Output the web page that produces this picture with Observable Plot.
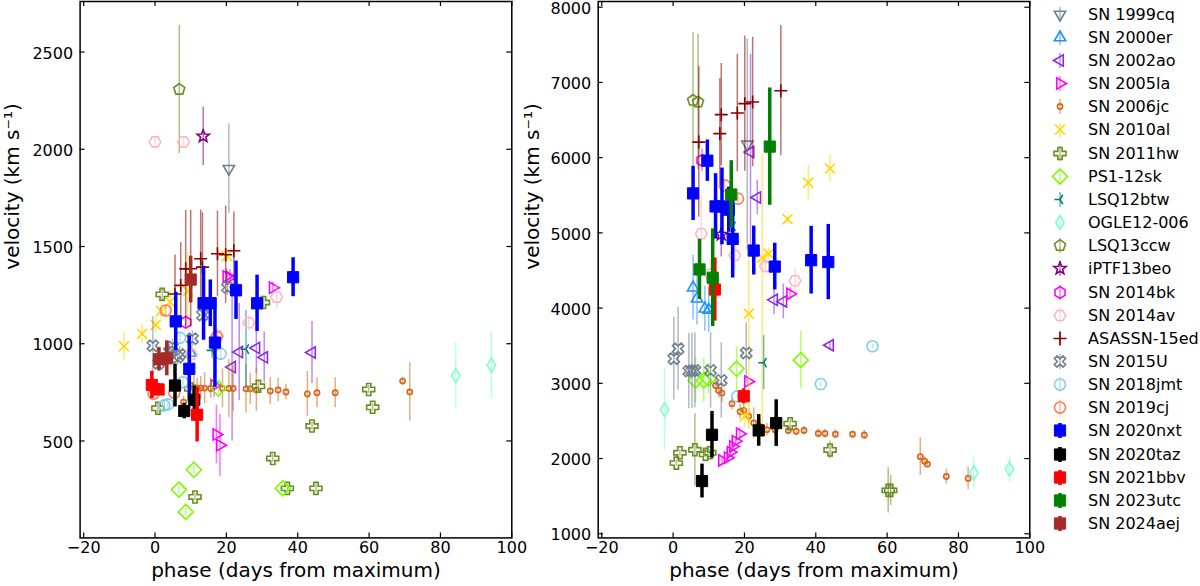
<!DOCTYPE html>
<html>
<head>
<meta charset="utf-8">
<script src="https://cdn.jsdelivr.net/npm/d3@7"></script>
<script src="https://cdn.jsdelivr.net/npm/@observablehq/plot@0.6"></script>
<style>
  body { margin: 0; background: #fff; font-family: "DejaVu Sans", sans-serif; }
  #wrap { position: relative; width: 1200px; height: 586px; overflow: hidden; }
  #wrap > svg, #wrap > figure { position: absolute; top: 0; margin: 0; }
  #legend { position: absolute; left: 1040px; top: 0; width: 160px; height: 586px; }
  .row { position: absolute; left: 0; height: 23px; display: flex; align-items: center; }
  .row span { font-size: 16px; margin-left: 8px; white-space: nowrap; color: #000; }
</style>
</head>
<body>
<div id="wrap"><div id="legend"></div></div>
<script>
// rows are [phase, velocity, err] or [phase, velocity, errLow, errHigh]
const L_1999cq = [[20.7, 1900, 230]];
const L_2000er = [[10.0, 952, 50]];
const L_2002ao = [[21.6, 880, 380], [23.6, 957, 250], [28.4, 978, 130], [30.6, 930, 130], [44.0, 955, 160]];
const L_2005la = [[20.0, 1346, 40], [21.0, 1342, 40], [33.0, 1288, 30], [16.6, 785, 60], [17.2, 533, 150], [18.2, 478, 160]];
const L_2006jc = [[8.0, 700, 30], [10.9, 775, 60], [11.8, 772, 50], [12.8, 772, 60], [13.9, 772, 80], [15.6, 770, 50],
  [18.9, 770, 100], [20.7, 770, 150], [21.9, 770, 120], [25.5, 768, 125], [26.7, 768, 80], [28.4, 762, 110],
  [32.3, 757, 70], [34.5, 762, 60], [36.7, 752, 40], [42.7, 742, 115], [45.4, 748, 77], [50.5, 748, 77],
  [69.4, 808, 20], [71.4, 752, 150]];
const L_2010al = [[-8.7, 987, 70], [-3.6, 1051, 50], [0.2, 1097, 40], [1.7, 1168, 40], [4.2, 1215, 60], [9.2, 1270, 200], [20.1, 1452, 40]];
const L_2011hw = [[2.0, 1254, 30], [0.8, 668, 30], [10.0, 768, 30], [11.2, 212, 20], [29.0, 781, 30], [30.4, 1212, 30],
  [33.0, 410, 20], [37.1, 256, 20], [45.1, 256, 20], [44.0, 577, 20], [59.9, 765, 20], [61.0, 673, 20]];
const L_ps112sk = [[17.8, 770, 30], [10.9, 352, 20], [6.7, 250, 20], [8.6, 135, 20], [35.8, 256, 20]];
const L_lsq12btw = [[16.0, 966, 40], [25.5, 972, 200]];
const L_ogle12 = [[84.3, 837, 170], [94.3, 890, 170]];
const L_lsq13ccw = [[6.8, 2308, 330]];
const L_iptf13beo = [[13.5, 2067, 150]];
const L_2014bk = [[8.6, 1110, 30]];
const L_2014av = [[0.0, 2038, 20], [8.0, 2038, 20], [10.2, 945, 40], [17.5, 1040, 40], [26.3, 1108, 40], [34.1, 1240, 60]];
const L_asassn15ed = [[5.6, 1256, 200], [7.2, 1300, 220], [8.6, 1385, 300], [10.0, 1386, 300], [12.8, 1437, 250],
  [13.3, 1394, 280], [17.5, 1463, 220], [19.8, 1458, 250], [22.1, 1478, 200]];
const L_2015U = [[-0.6, 990, 150], [1.0, 900, 40], [4.0, 958, 40], [4.9, 983, 40], [6.3, 930, 40], [6.9, 945, 40],
  [10.5, 1026, 40], [13.3, 1148, 40], [20.3, 1290, 40]];
const L_2018jmt = [[2.6, 683, 30], [3.6, 688, 30], [7.0, 1030, 30], [7.8, 802, 30], [18.4, 948, 30]];
const L_2019cj = [[-0.4, 743, 30], [3.0, 1171, 30], [5.4, 748, 30], [17.3, 1035, 30]];
const L_2020nxt = [[5.8, 1115, 150], [9.6, 871, 170], [13.6, 1208, 190], [15.5, 1208, 120], [16.8, 1006, 230],
  [22.7, 1275, 150], [28.6, 1208, 145], [38.7, 1342, 100]];
const L_2020taz = [[5.6, 785, 110], [8.2, 654, 40], [11.0, 712, 70]];
const L_2021bbv = [[-0.9, 788, 70], [1.0, 765, 30], [11.8, 635, 140]];
const L_2023utc = [];
const L_2024aej = [[1.1, 920, 60], [3.3, 925, 90], [10.0, 1330, 120]];

const R_1999cq = [[20.8, 6177, 1400]];
const R_2000er = [[5.6, 4271, 430], [6.7, 4125, 350], [8.9, 3992, 300], [10.0, 3975, 300]];
const R_2002ao = [[21.7, 6074, 1300], [23.6, 5470, 230], [28.3, 4110, 200], [30.9, 4089, 230], [44.0, 3507, 50]];
const R_2005la = [[13.7, 1975, 60], [15.3, 2011, 60], [16.1, 2085, 60], [16.8, 2161, 60], [17.5, 2231, 60],
  [18.7, 2330, 80], [21.0, 3025, 60], [32.8, 4189, 80]];
const R_2006jc = [[11.9, 2972, 100], [12.8, 2905, 100], [13.7, 2870, 120], [16.5, 2729, 80], [18.8, 2622, 100],
  [19.8, 2640, 100], [21.2, 2562, 100], [22.6, 2473, 200], [24.4, 2423, 100], [26.3, 2383, 80], [28.6, 2383, 80],
  [32.3, 2373, 60], [34.5, 2363, 60], [36.7, 2373, 60], [40.7, 2333, 60], [42.6, 2333, 60], [45.5, 2323, 60],
  [50.3, 2323, 30], [53.6, 2313, 60], [69.3, 2025, 250], [70.5, 1965, 60], [71.3, 1925, 40], [76.6, 1761, 100],
  [82.7, 1736, 150]];
const R_2010al = [[44.0, 5856, 185], [37.9, 5667, 225], [32.1, 5184, 50], [26.8, 4723, 80], [25.0, 4672, 2300, 1383],
  [21.2, 3926, 1550, 735], [20.1, 2560, 150]];
const R_2011hw = [[0.9, 1939, 40], [1.9, 2077, 40], [6.1, 2117, 480], [9.1, 2055, 40], [10.3, 2077, 40],
  [32.8, 2463, 60], [44.0, 2114, 120], [60.3, 1577, 300], [61.0, 1577, 200]];
const R_ps112sk = [[6.3, 3039, 300], [8.6, 3039, 290], [9.9, 3061, 200], [17.8, 3194, 290], [35.8, 3308, 385]];
const R_lsq12btw = [[25.4, 3274, 360], [16.7, 5086, 60]];
const R_ogle12 = [[-2.4, 2649, 550], [84.3, 1811, 200], [94.3, 1861, 170]];
const R_lsq13ccw = [[5.6, 6762, 900], [7.0, 6739, 900]];
const R_iptf13beo = [[13.5, 4980, 300]];
const R_2014bk = [[8.1, 5964, 150]];
const R_2014av = [[7.9, 4989, 500], [10.4, 4450, 200], [17.3, 4701, 200], [25.9, 4555, 100], [34.2, 4363, 150]];
const R_asassn15ed = [[7.2, 6207, 1000], [13.1, 6319, 730], [13.5, 6572, 680], [18.0, 6593, 780], [20.1, 6718, 900],
  [22.3, 6739, 860], [30.2, 6890, 866]];
const R_2015U = [[0.2, 3327, 550], [1.4, 3460, 550], [4.4, 3162, 500], [5.3, 3165, 500], [6.1, 3172, 500],
  [10.5, 3172, 500], [13.5, 3039, 500], [20.5, 3402, 400]];
const R_2018jmt = [[55.9, 3492, 30], [41.4, 2990, 30], [18.0, 2826, 30]];
const R_2019cj = [[14.5, 5632, 50], [18.2, 5455, 50]];
const R_2020nxt = [[5.6, 5525, 360], [9.6, 5960, 275], [11.9, 5352, 435], [13.7, 5352, 510], [15.6, 5308, 300],
  [16.7, 4920, 520], [22.6, 4765, 325], [28.5, 4552, 310], [38.7, 4637, 450], [43.5, 4612, 500]];
const R_2020taz = [[8.1, 1701, 225], [10.9, 2316, 310], [24.0, 2374, 210], [28.9, 2471, 310]];
const R_2021bbv = [[11.7, 4247, 420], [19.8, 2828, 100]];
const R_2023utc = [[7.4, 4514, 400], [11.1, 4404, 650], [16.3, 5510, 450], [27.1, 6147, 780]];
const R_2024aej = [];

const xTicks = [-20, 0, 20, 40, 60, 80, 100];
const yTicksLeft = [500, 1000, 1500, 2000, 2500];
const yTicksRight = [1000, 2000, 3000, 4000, 5000, 6000, 7000, 8000];

// marker shapes, r is the half size in px
const sym = (fn) => ({draw(ctx, size) { fn(ctx, Math.sqrt(size / Math.PI)); }});
function poly(ctx, pts) {
  pts.forEach(([x, y], i) => i ? ctx.lineTo(x, y) : ctx.moveTo(x, y));
  ctx.closePath();
}
function ring(ctx, r, n, start) {
  const pts = [];
  for (let i = 0; i < n; i++) {
    const a = (start + i * 360 / n) * Math.PI / 180;
    pts.push([r * Math.cos(a), r * Math.sin(a)]);
  }
  poly(ctx, pts);
}
const triDown = sym((c, r) => ring(c, r, 3, 90));
const triUp = sym((c, r) => ring(c, r, 3, -90));
const triLeft = sym((c, r) => ring(c, r, 3, 180));
const triRight = sym((c, r) => ring(c, r, 3, 0));
const circle = sym((c, r) => { c.moveTo(r, 0); c.arc(0, 0, r, 0, 2 * Math.PI); });
const square = sym((c, r) => poly(c, [[-r, -r], [r, -r], [r, r], [-r, r]]));
const diamond = sym((c, r) => poly(c, [[0, -r], [r, 0], [0, r], [-r, 0]]));
const thinDiamond = sym((c, r) => poly(c, [[0, -r], [0.6 * r, 0], [0, r], [-0.6 * r, 0]]));
const pentagon = sym((c, r) => ring(c, r, 5, -90));
const hexagon = sym((c, r) => ring(c, r, 6, -90));
const hexagon2 = sym((c, r) => ring(c, r, 6, 0));
const star = sym((c, r) => {
  const pts = [];
  for (let i = 0; i < 10; i++) {
    const a = (-90 + i * 36) * Math.PI / 180, k = i % 2 ? 0.42 * r : r;
    pts.push([k * Math.cos(a), k * Math.sin(a)]);
  }
  poly(c, pts);
});
function plusPts(r, a, rot) {
  const base = [[-a, -r], [a, -r], [a, -a], [r, -a], [r, a], [a, a], [a, r], [-a, r], [-a, a], [-r, a], [-r, -a], [-a, -a]];
  const cs = Math.cos(rot), sn = Math.sin(rot);
  return base.map(([x, y]) => [x * cs - y * sn, x * sn + y * cs]);
}
const fatPlus = sym((c, r) => poly(c, plusPts(r, 0.36 * r, 0)));
const fatX = sym((c, r) => poly(c, plusPts(r * 1.1, 0.34 * r, Math.PI / 4)));
const cross = sym((c, r) => { c.moveTo(-r, 0); c.lineTo(r, 0); c.moveTo(0, -r); c.lineTo(0, r); });
const times = sym((c, r) => { const k = r * 0.72; c.moveTo(-k, -k); c.lineTo(k, k); c.moveTo(-k, k); c.lineTo(k, -k); });
const triSpokes = sym((c, r) => {
  [180, 60, -60].forEach(deg => {
    const a = deg * Math.PI / 180;
    c.moveTo(0, 0); c.lineTo(r * Math.cos(a), r * Math.sin(a));
  });
});

const thin = {ew: 1.5, eo: 0.55};
const thick = {ew: 3.5, eo: 1, fill: true, sw: 1};
const series = [
  {name: "SN 1999cq", left: L_1999cq, right: R_1999cq, color: "#708090", sym: triDown, r: 6.5, ...thin},
  {name: "SN 2000er", left: L_2000er, right: R_2000er, color: "#1e90ff", sym: triUp, r: 6.5, ...thin},
  {name: "SN 2002ao", left: L_2002ao, right: R_2002ao, color: "#8a2be2", sym: triLeft, r: 6.5, ...thin},
  {name: "SN 2005la", left: L_2005la, right: R_2005la, color: "#ff00ff", sym: triRight, r: 6.5, ...thin},
  {name: "SN 2006jc", left: L_2006jc, right: R_2006jc, color: "#d2691e", sym: circle, r: 2.6, ...thin},
  {name: "SN 2010al", left: L_2010al, right: R_2010al, color: "#ffd700", sym: times, r: 7, ...thin},
  {name: "SN 2011hw", left: L_2011hw, right: R_2011hw, color: "#6b8e23", sym: fatPlus, r: 6, ...thin},
  {name: "PS1-12sk", left: L_ps112sk, right: R_ps112sk, color: "#7cfc00", sym: diamond, r: 7.5, ...thin},
  {name: "LSQ12btw", left: L_lsq12btw, right: R_lsq12btw, color: "#008080", sym: triSpokes, r: 5.5, ...thin},
  {name: "OGLE12-006", left: L_ogle12, right: R_ogle12, color: "#7fffd4", sym: thinDiamond, r: 7, ...thin},
  {name: "LSQ13ccw", left: L_lsq13ccw, right: R_lsq13ccw, color: "#6b8e23", sym: pentagon, r: 5.8, ...thin},
  {name: "iPTF13beo", left: L_iptf13beo, right: R_iptf13beo, color: "#800080", sym: star, r: 6.5, ...thin},
  {name: "SN 2014bk", left: L_2014bk, right: R_2014bk, color: "#ff00ff", sym: hexagon, r: 5.8, ...thin},
  {name: "SN 2014av", left: L_2014av, right: R_2014av, color: "#ffb6c1", sym: hexagon2, r: 5.8, ...thin},
  {name: "ASASSN-15ed", left: L_asassn15ed, right: R_asassn15ed, color: "#8b0000", sym: cross, r: 6.5, ...thin},
  {name: "SN 2015U", left: L_2015U, right: R_2015U, color: "#708090", sym: fatX, r: 5.5, ...thin},
  {name: "SN 2018jmt", left: L_2018jmt, right: R_2018jmt, color: "#87ceeb", sym: circle, r: 5.5, ...thin},
  {name: "SN 2019cj", left: L_2019cj, right: R_2019cj, color: "#ff7f50", sym: circle, r: 5.5, ...thin},
  {name: "SN 2020nxt", left: L_2020nxt, right: R_2020nxt, color: "#0000ff", sym: square, r: 5.6, ...thick},
  {name: "SN 2020taz", left: L_2020taz, right: R_2020taz, color: "#000000", sym: square, r: 5.6, ...thick},
  {name: "SN 2021bbv", left: L_2021bbv, right: R_2021bbv, color: "#ff0000", sym: square, r: 5.6, ...thick},
  {name: "SN 2023utc", left: L_2023utc, right: R_2023utc, color: "#008000", sym: square, r: 5.6, ...thick},
  {name: "SN 2024aej", left: L_2024aej, right: R_2024aej, color: "#a52a2a", sym: square, r: 5.6, ...thick}
];

function seriesMarks(rows, s) {
  const data = rows.map(([d, v, lo, hi]) => ({d, v, lo: v - lo, hi: v + (hi ?? lo)}));
  return [
    Plot.ruleX(data, {x: "d", y1: "lo", y2: "hi", stroke: s.color, strokeWidth: s.ew, strokeOpacity: s.eo}),
    Plot.dot(data, {x: "d", y: "v", symbol: s.sym, r: s.r, fill: s.fill ? s.color : "none",
      stroke: s.color, strokeWidth: s.sw ?? 1.6})
  ];
}

const fmt = d => d < 0 ? "\u2212" + (-d) : String(d);

function panel({key, left, width, marginLeft, marginRight, yDomain, yTicks}) {
  const H = 586, mT = 1, mB = 48.6;
  const fw = width - marginLeft - marginRight, fh = H - mT - mB;
  const chart = Plot.plot({
    width, height: H, marginLeft, marginRight, marginTop: mT, marginBottom: mB,
    style: {fontFamily: "DejaVu Sans, sans-serif", fontSize: "16px", background: "transparent", overflow: "visible"},
    x: {domain: [-21, 100]},
    y: {domain: yDomain},
    marks: [
      ...series.flatMap(s => seriesMarks(s[key], s)),
      // inward ticks on all four sides
      Plot.tickX(xTicks, {x: d => d, insetTop: fh - 5, stroke: "black", strokeWidth: 1.2}),
      Plot.tickX(xTicks, {x: d => d, insetBottom: fh - 5, stroke: "black", strokeWidth: 1.2}),
      Plot.tickY(yTicks, {y: d => d, insetRight: fw - 5, stroke: "black", strokeWidth: 1.2}),
      Plot.tickY(yTicks, {y: d => d, insetLeft: fw - 5, stroke: "black", strokeWidth: 1.2}),
      Plot.frame({stroke: "black", strokeWidth: 1.5}),
      Plot.axisX(xTicks, {tickSize: 0, tickPadding: 4, tickFormat: fmt, label: null, fontSize: 16}),
      Plot.axisY(yTicks, {tickSize: 0, tickPadding: 7, tickFormat: d => String(d), label: null, fontSize: 16, dy: 1.5}),
      Plot.text(["phase (days from maximum)"], {frameAnchor: "bottom", dy: 39, fontSize: 20}),
      Plot.text(["velocity (km s\u207b\u00b9)"], {frameAnchor: "left", rotate: -90, dx: -(marginLeft - (left === 0 ? 12 : 532 - left)), fontSize: 20})
    ]
  });
  chart.style.left = left + "px";
  return chart;
}

const wrap = document.getElementById("wrap");
wrap.append(panel({key: "left", left: 0, width: 515, marginLeft: 79.6, marginRight: 3.7, yDomain: [1.5, 2760], yTicks: yTicksLeft}));
wrap.append(panel({key: "right", left: 515, width: 520, marginLeft: 82.7, marginRight: 5.7, yDomain: [945, 8076], yTicks: yTicksRight}));

// legend
const legend = document.getElementById("legend");
series.forEach((s, i) => {
  const row = document.createElement("div");
  row.className = "row";
  row.style.top = (14.2 + i * 23.15 - 11.5) + "px";
  const svg = d3.create("svg").attr("width", 40).attr("height", 23);
  const g = svg.append("g").attr("transform", "translate(20,11.5)");
  g.append("line").attr("y1", -7.5).attr("y2", 7.5).attr("stroke", s.color)
    .attr("stroke-width", s.ew).attr("stroke-opacity", s.eo);
  const p = d3.path();
  s.sym.draw(p, Math.PI * s.r * s.r);
  g.append("path").attr("d", p.toString()).attr("fill", s.fill ? s.color : "none")
    .attr("stroke", s.color).attr("stroke-width", s.sw ?? 1.6);
  row.append(svg.node());
  const t = document.createElement("span");
  t.textContent = s.name;
  row.append(t);
  legend.append(row);
});
</script>
</body>
</html>
